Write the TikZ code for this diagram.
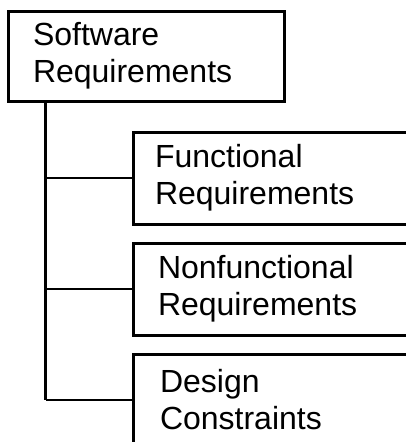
\documentclass[tikz,border=0pt]{standalone}
\usepackage{fontspec}
\setmainfont{Liberation Sans}
\begin{document}
\begin{tikzpicture}[x=1pt,y=-1pt,
  box/.style={draw=black, line width=3pt, rectangle, inner ysep=0pt,
    align=left, font=\fontsize{32pt}{37pt}\selectfont},
  topbox/.style={box, minimum width=276pt, minimum height=90pt,
    inner xsep=25pt, text width=226pt},
  subbox/.style={box, minimum width=287pt, minimum height=92pt,
    inner xsep=#1, text width=287pt-2*#1},
  link/.style={draw=black, line width=2.2pt}]
\useasboundingbox (0,0) rectangle (406,442);
\clip (0,0) rectangle (406,442);

% root and its three children
\node[topbox] (sr) at (146,56) {Software\\Requirements};
\node[subbox=22pt] (fr) at (276.5,178) {Functional\\Requirements};
\node[subbox=25pt] (nfr) at (276.5,289) {Nonfunctional\\Requirements};
\node[subbox=27pt] (dc) at (276.5,400) {Design\\Constraints};

% tree connectors
\coordinate (trunk) at ([xshift=39pt]sr.south west);
\draw[link] (trunk) -- (trunk |- dc.west);
\draw[link] (trunk |- fr.west) -- (fr.west);
\draw[link] (trunk |- nfr.west) -- (nfr.west);
\draw[link] (trunk |- dc.west) -- (dc.west);
\end{tikzpicture}
\end{document}
